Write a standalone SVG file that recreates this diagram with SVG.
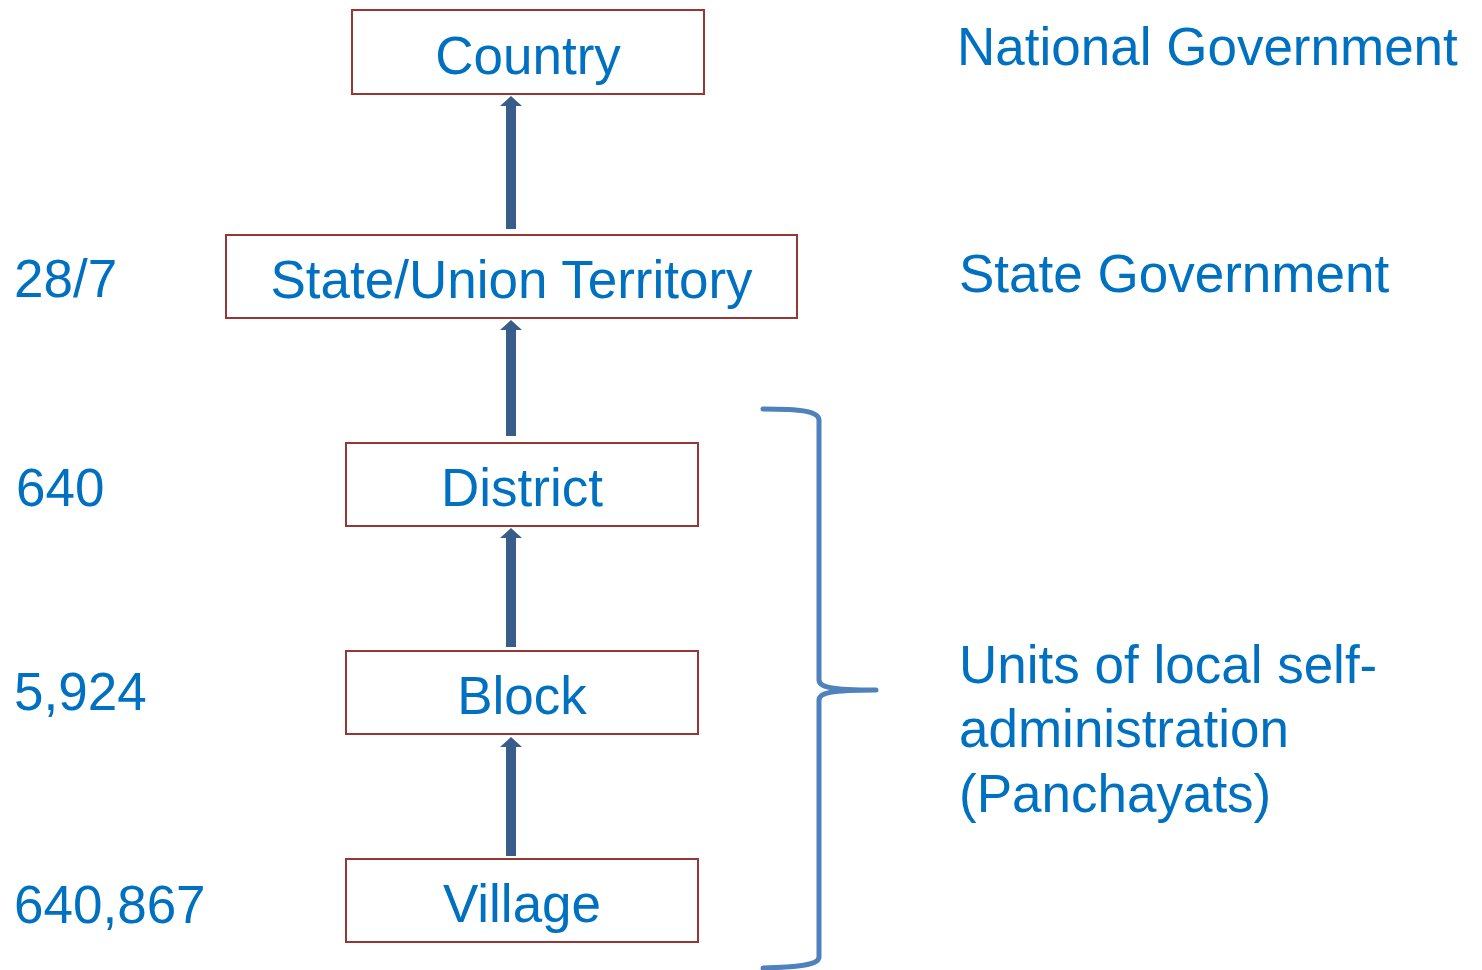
<svg xmlns="http://www.w3.org/2000/svg" width="1482" height="970" viewBox="0 0 1482 970">
  <style>
    .box { fill: #ffffff; stroke: #953735; stroke-width: 2; }
    .t { font-family: "Liberation Sans", Arial, sans-serif; font-size: 53px; fill: #0070C0; }
    .c { text-anchor: middle; }
    .arrow { fill: #385D8A; }
    .brace { fill: none; stroke: #4F81BD; stroke-width: 5; stroke-linecap: round; stroke-linejoin: round; }
  </style>
  <rect width="1482" height="970" fill="#ffffff"/>

  <!-- hierarchy connectors: upward block arrows -->
  <g id="connectors">
    <path class="arrow" d="M506,229 L506,106 L500,106 L511,96 L522,106 L516,106 L516,229 Z"/>
    <path class="arrow" d="M506,436 L506,330 L500,330 L511,320 L522,330 L516,330 L516,436 Z"/>
    <path class="arrow" d="M506,647 L506,538 L500,538 L511,528 L522,538 L516,538 L516,647 Z"/>
    <path class="arrow" d="M506,856 L506,747 L500,747 L511,737 L522,747 L516,747 L516,856 Z"/>
  </g>

  <g id="country">
    <rect class="box" x="352" y="10" width="352" height="84"/>
    <text class="t c" x="528" y="74">Country</text>
  </g>
  <g id="state">
    <rect class="box" x="226" y="235" width="571" height="83"/>
    <text class="t c" x="511.5" y="298">State/Union Territory</text>
  </g>
  <g id="district">
    <rect class="box" x="346" y="443" width="352" height="83"/>
    <text class="t c" x="522" y="506">District</text>
  </g>
  <g id="block">
    <rect class="box" x="346" y="651" width="352" height="83"/>
    <text class="t c" x="522" y="714">Block</text>
  </g>
  <g id="village">
    <rect class="box" x="346" y="859" width="352" height="83"/>
    <text class="t c" x="522" y="922">Village</text>
  </g>

  <!-- counts per level -->
  <g id="counts">
    <text class="t" x="14" y="297">28/7</text>
    <text class="t" x="16" y="506">640</text>
    <text class="t" x="14" y="710">5,924</text>
    <text class="t" x="14" y="923">640,867</text>
  </g>

  <!-- government tier labels -->
  <g id="tiers">
    <text class="t" x="957" y="65">National Government</text>
    <text class="t" x="959" y="292">State Government</text>
    <text class="t" x="959" y="683">Units of local self-</text>
    <text class="t" x="959" y="747">administration</text>
    <text class="t" x="959" y="812">(Panchayats)</text>
  </g>

  <!-- curly brace grouping the local levels -->
  <g id="brace">
    <path class="brace" d="M763,409 C800,409 819,411 819,420 L819,680 C819,687 830,690 876,690 C830,690 819,693 819,700 L819,957 C819,965 800,967 763,968"/>
  </g>
</svg>
